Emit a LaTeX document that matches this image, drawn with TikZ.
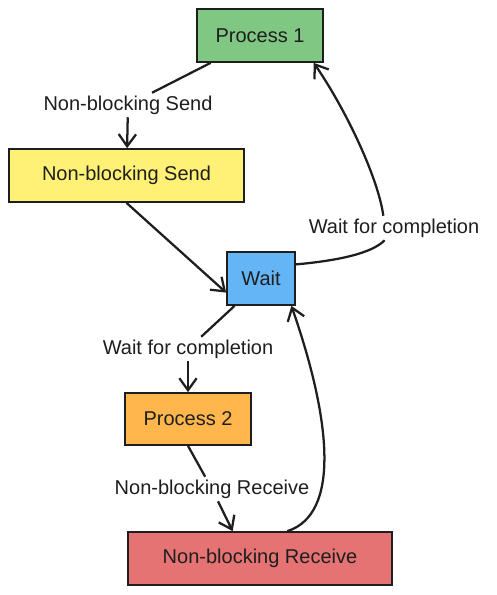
\documentclass[tikz,border=0pt]{standalone}
\usepackage{fontspec}
\setmainfont{Liberation Sans}
\usetikzlibrary{arrows.meta}
\usepackage{xcolor}
\definecolor{procgreen}{HTML}{81C784}
\definecolor{sendyellow}{HTML}{FFF176}
\definecolor{waitblue}{HTML}{64B5F6}
\definecolor{procorange}{HTML}{FFB74D}
\definecolor{recvred}{HTML}{E57373}
\definecolor{ink}{HTML}{1E1E1E}
\tikzset{
  box/.style={draw=ink, line width=1.3pt, minimum height=39.75pt, inner sep=0pt, text=ink, font=\fontsize{15}{17}\selectfont},
  lbl/.style={inner sep=2pt, text=ink, font=\fontsize{15}{17}\selectfont},
  wire/.style={draw=ink, line width=1.7pt},
  link/.style={wire, -{Straight Barb[length=9pt,width=13pt]}}
}

\begin{document}
\begin{tikzpicture}[x=0.75pt,y=-0.75pt]
\useasboundingbox (0,0) rectangle (496,595);
% boxes
\node[box, fill=procgreen, minimum width=94.5pt] (p1) at (260,35.5) {Process 1};
\node[box, fill=sendyellow, minimum width=176.25pt] (send) at (126.5,175.5) {Non-blocking Send};
\node[box, fill=waitblue, minimum width=51pt] (wait) at (261,278.5) {Wait};
\node[box, fill=procorange, minimum width=94.5pt, minimum height=39pt] (p2) at (188,419) {Process 2};
\node[box, fill=recvred, minimum width=198pt] (recv) at (260,558.5) {Non-blocking Receive};
% labels
\node[lbl] (l1) at (128,105) {Non-blocking Send};
\node[lbl] (l2) at (394,228) {Wait for completion};
\node[lbl] (l3) at (188,349) {Wait for completion};
\node[lbl] (l4) at (212,489) {Non-blocking Receive};
% connectors
\draw[wire] (p1.-151) -- (l1);
\draw[link] (l1) -- (send);
\draw[link] (send.south) -- (wait.202);
\draw[wire] (wait.22) .. controls +(55,-5) and +(-10,10) .. ([xshift=-7pt]l2.south);
\draw[link] ([xshift=-8pt]l2.north) .. controls +(-5,-37) and +(33,48) .. (p1.-27);
\draw[wire] (wait.226) -- (l3);
\draw[link] (l3) -- (p2.north);
\draw[wire] (p2.south) -- (l4);
\draw[link] (l4) -- (recv.135);
\draw[link] (recv.45) .. controls +(53,-17) and +(40,115) .. (wait.-42);
\end{tikzpicture}
\end{document}
